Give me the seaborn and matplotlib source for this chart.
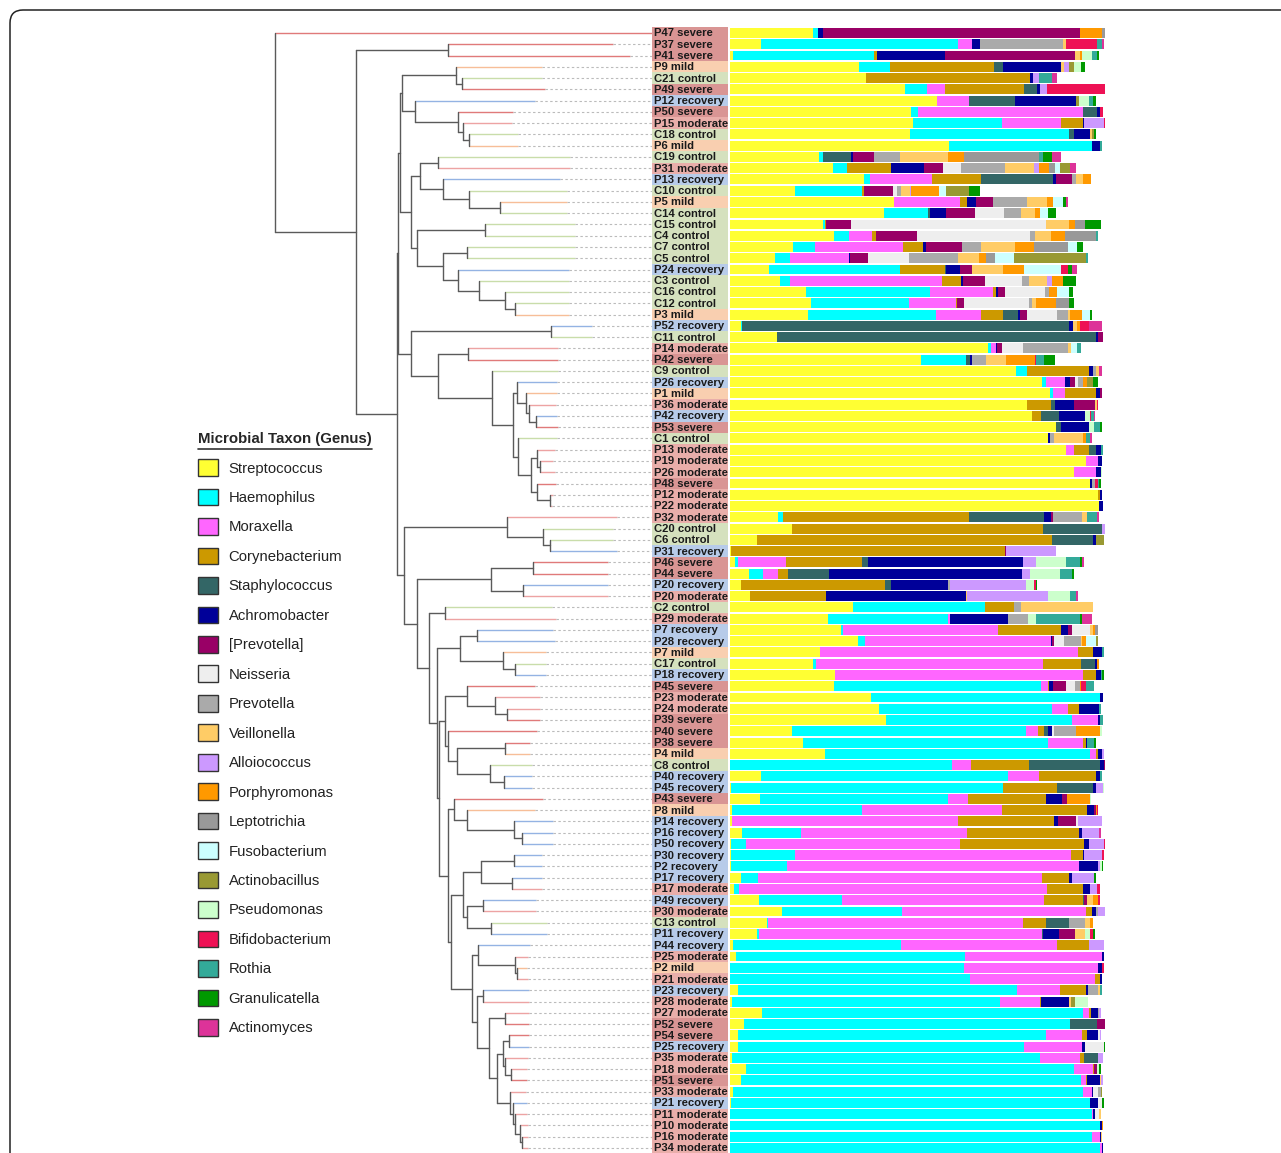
import matplotlib
matplotlib.use("Agg")
import matplotlib.pyplot as plt
from matplotlib.lines import Line2D
from matplotlib.patches import FancyBboxPatch, Patch
import numpy as np
import pandas as pd
import seaborn as sns

# ---- samples (top to bottom) ----
sample_labels = [
    "P47 severe", "P37 severe", "P41 severe", "P9 mild", "C21 control",
    "P49 severe", "P12 recovery", "P50 severe", "P15 moderate", "C18 control",
    "P6 mild", "C19 control", "P31 moderate", "P13 recovery", "C10 control",
    "P5 mild", "C14 control", "C15 control", "C4 control", "C7 control",
    "C5 control", "P24 recovery", "C3 control", "C16 control", "C12 control",
    "P3 mild", "P52 recovery", "C11 control", "P14 moderate", "P42 severe",
    "C9 control", "P26 recovery", "P1 mild", "P36 moderate", "P42 recovery",
    "P53 severe", "C1 control", "P13 moderate", "P19 moderate", "P26 moderate",
    "P48 severe", "P12 moderate", "P22 moderate", "P32 moderate", "C20 control",
    "C6 control", "P31 recovery", "P46 severe", "P44 severe", "P20 recovery",
    "P20 moderate", "C2 control", "P29 moderate", "P7 recovery", "P28 recovery",
    "P7 mild", "C17 control", "P18 recovery", "P45 severe", "P23 moderate",
    "P24 moderate", "P39 severe", "P40 severe", "P38 severe", "P4 mild",
    "C8 control", "P40 recovery", "P45 recovery", "P43 severe", "P8 mild",
    "P14 recovery", "P16 recovery", "P50 recovery", "P30 recovery", "P2 recovery",
    "P17 recovery", "P17 moderate", "P49 recovery", "P30 moderate", "C13 control",
    "P11 recovery", "P44 recovery", "P25 moderate", "P2 mild", "P21 moderate",
    "P23 recovery", "P28 moderate", "P27 moderate", "P52 severe", "P54 severe",
    "P25 recovery", "P35 moderate", "P18 moderate", "P51 severe", "P33 moderate",
    "P21 recovery", "P11 moderate", "P10 moderate", "P16 moderate", "P34 moderate",
]

# ---- tree: [node depth, child, child]; ints are leaves (row index) ----
d1 = [181, 3, [187, 4, 5]]
d2 = [140, 6, [183, 7, [188, 8, [194, 9, 10]]]]
clade_d = [127, d1, d2]
e1 = [145, [163, 11, 12], [168, 13, [194, 14, [225, 15, 16]]]]
e2 = [142, [210, 17, 18], [168, [192, 19, 20], [183, 21, [204, 22, [230, 23, [240, 24, 25]]]]]]
clade_e = [136, e1, e2]
n1a = [242, 31, [251, 32, [254, 33, [261, 34, 35]]]]
n1b = [243, 36, [256, [262, 37, [265, 38, 39]], [262, 40, [275, 41, 42]]]]
clade_n1 = [136, [276, 26, 27], [163, [193, 28, 29], [217, 30, [238, n1a, n1b]]]]
upper = [123, [125, clade_d, clade_e], clade_n1]

p32 = [232, 43, [268, 44, [275, 45, 46]]]
p46 = [216, [258, 47, 48], [248, 49, 50]]
p7 = [185, [202, 53, 54], [228, 55, [240, 56, 57]]]
p45 = [192, 58, [220, 59, [232, 60, 61]]]
p40 = [173, 62, [182, [230, 63, 64], [215, 65, [229, 66, 67]]]]
p43 = [179, 68, [192, 69, [239, 70, [247, 71, 72]]]]
p30 = [188, [206, [239, 73, 74], [237, 75, 76]], [192, [208, 77, 78], [216, 79, 80]]]
p44 = [203, 81, [240, 82, [242, 83, 84]]]
p54 = [228, [234, 89, 90], [230, 91, [236, 92, 93]]]
p33 = [235, 94, [238, 95, [240, 96, [245, 97, [247, 98, 99]]]]]
p23 = [202, [208, 85, 86], [214, [230, 87, 88], [222, p54, p33]]]
cyan_clade = [197, p44, p23]
mixed = [173, p43, [176, p30, cyan_clade]]
big = [164, [170, p45, p40], mixed]
lower = [129, p32, [142, p46, [154, [170, 51, 52], [162, p7, big]]]]
tree = [0, 0, [81, [173, 1, 2], [122, upper, lower]]]

leaf_depth = [
    377, 338, 355, 267, 267, 270, 260, 238, 237, 243,
    243, 295, 295, 285, 292, 292, 292, 300, 300, 300,
    300, 294, 294, 294, 294, 294, 317, 317, 283, 283,
    283, 282, 282, 281, 282, 283, 282, 280, 278, 280,
    281, 278, 277, 342, 338, 338, 342, 333, 333, 333,
    333, 277, 281, 278, 280, 271, 271, 271, 260, 265,
    265, 265, 262, 255, 255, 257, 257, 257, 268, 260,
    278, 278, 278, 267, 267, 267, 267, 261, 261, 272,
    272, 255, 253, 252, 253, 254, 254, 254, 254, 254,
    254, 253, 252, 252, 251, 252, 252, 253, 253, 253,
]
label_depth = 377

# ---- relative abundance (%) per genus ----
genera = [
    "Streptococcus", "Haemophilus", "Moraxella", "Corynebacterium", "Staphylococcus",
    "Achromobacter", "[Prevotella]", "Neisseria", "Prevotella", "Veillonella",
    "Alloiococcus", "Porphyromonas", "Leptotrichia", "Fusobacterium", "Actinobacillus",
    "Pseudomonas", "Bifidobacterium", "Rothia", "Granulicatella", "Actinomyces",
]
genus_colors = [
    "#FFFF33", "#00FFFF", "#FF66FF", "#CC9900", "#336666",
    "#000099", "#990066", "#EEEEEE", "#AAAAAA", "#FFCC66",
    "#CC99FF", "#FF9900", "#999999", "#CCFFFF", "#999933",
    "#CCFFCC", "#EE1155", "#33AA99", "#009900", "#DD3399",
]

streptococcus = [
    22.2, 8.2, 0.9, 34.5, 36.2, 46.7, 55.3, 48.3, 48.9, 48.0,
    58.5, 23.8, 27.4, 35.7, 17.3, 43.8, 41.1, 24.7, 27.7, 16.9,
    12.0, 10.4, 13.2, 20.3, 21.5, 20.8, 2.8, 12.5, 68.7, 50.9,
    76.3, 83.1, 85.2, 79.3, 80.4, 86.9, 84.7, 89.6, 94.9, 91.6,
    96.0, 98.2, 98.5, 12.9, 16.4, 7.1, 0.3, 1.4, 5.1, 2.8,
    5.2, 32.9, 26.2, 29.6, 34.2, 24.1, 22.0, 28.0, 27.8, 37.6,
    39.6, 41.6, 16.6, 19.4, 25.2, 0.0, 8.2, 0.2, 8.0, 0.4,
    0.4, 3.1, 0.2, 0.2, 0.2, 2.8, 1.1, 7.6, 13.9, 9.8,
    7.3, 0.9, 1.5, 0.0, 0.0, 2.0, 0.4, 8.5, 3.8, 2.1,
    2.1, 0.4, 4.2, 2.8, 0.9, 0.2, 0.0, 0.0, 0.0, 0.0,
]
haemophilus = [
    1.3, 52.7, 37.5, 8.2, 0, 5.8, 0, 1.7, 23.6, 42.5,
    38.0, 0.9, 3.9, 1.6, 17.8, 0, 11.6, 0.6, 4.1, 5.7,
    4.0, 34.8, 2.7, 32.9, 26.3, 34.0, 0.5, 0, 0.8, 12.0,
    3.0, 1.1, 0.9, 0, 0, 0, 0, 0, 0, 0,
    0, 0, 0, 1.2, 0, 0, 0, 0.7, 3.8, 0,
    0, 35.2, 32.0, 0.6, 1.8, 0, 0.8, 0, 55.0, 61.1,
    46.2, 49.5, 62.3, 65.5, 70.9, 59.1, 65.8, 72.7, 50.0, 34.9,
    0, 15.8, 4.0, 17.0, 14.9, 4.7, 1.3, 22.2, 31.9, 0.3,
    0.5, 44.7, 61.2, 62.3, 64.1, 74.5, 71.6, 85.7, 86.8, 82.1,
    76.3, 82.3, 87.6, 90.9, 93.3, 95.8, 96.4, 98.7, 96.4, 98.7,
]
moraxella = [
    0, 3.6, 0, 0, 0, 4.9, 8.5, 44.1, 15.8, 0,
    0, 0, 0, 16.6, 0, 17.5, 0, 0, 6.0, 23.6,
    15.7, 0, 40.6, 16.8, 12.4, 12.1, 0, 0, 1.3, 0,
    0, 5.2, 3.1, 0, 0, 0, 0, 2.2, 3.3, 6.0,
    0, 0, 0, 0, 0, 0, 0, 12.8, 3.8, 0,
    0, 0, 0.4, 41.2, 49.5, 68.8, 60.7, 66.2, 1.9, 0,
    4.2, 7.1, 3.1, 9.3, 1.6, 5.2, 8.5, 0, 5.4, 37.1,
    60.3, 44.2, 57.0, 73.8, 78.0, 75.7, 82.2, 54.0, 49.2, 68.0,
    75.3, 41.7, 36.4, 35.9, 33.2, 11.4, 10.7, 1.6, 0, 9.7,
    15.4, 10.5, 4.9, 1.1, 2.2, 0, 0.4, 0, 2.2, 0.4,
]
corynebacterium = [
    0, 0, 0.7, 27.6, 43.8, 20.9, 0, 0, 5.7, 0,
    0, 0, 11.6, 12.9, 0.7, 2.0, 0, 0.3, 1.2, 5.3,
    0, 12.0, 5.2, 0.8, 0.3, 5.8, 0, 0, 0, 0,
    16.5, 0, 8.4, 6.2, 2.4, 0, 0, 3.9, 0, 0,
    0, 0.4, 0, 49.5, 67.1, 78.7, 72.9, 20.4, 2.8, 38.5,
    20.4, 7.7, 0, 16.8, 0, 3.8, 10.2, 3.4, 0.4, 0,
    3.1, 0, 1.8, 0.6, 0.4, 15.3, 15.1, 14.4, 20.8, 22.9,
    25.8, 30.0, 33.3, 3.0, 0, 7.1, 9.4, 10.2, 1.5, 6.1,
    0, 8.3, 0, 0, 1.3, 7.1, 0.3, 0.4, 0, 1.3,
    0, 1.2, 0.3, 0.4, 0, 0, 0, 0, 0, 0,
]
staphylococcus = [
    0, 0, 0, 2.5, 0, 3.6, 12.2, 3.7, 0, 1.1,
    0, 7.6, 0, 19.4, 0, 0, 0.7, 0, 0, 0,
    0, 0.5, 0, 0, 0, 4.2, 87.0, 85.1, 0, 1.1,
    0, 0, 0, 1.2, 5.0, 1.3, 0, 1.9, 0, 0,
    0, 0, 0, 20.0, 15.6, 11.1, 0, 1.6, 10.8, 1.6,
    0, 0, 0, 0, 0, 0, 3.7, 0, 0, 0,
    0, 0, 0.9, 0, 0, 19.1, 0, 9.6, 0, 0,
    0, 0, 0, 0, 0, 0, 0, 0.4, 0, 6.3,
    0.3, 0, 0, 0, 0, 0, 0, 0, 7.3, 0,
    0, 3.8, 0, 0, 0, 0, 0, 0, 0, 0,
]
achromobacter = [
    1.2, 2.1, 18.2, 15.5, 0.9, 0.7, 16.3, 0.9, 0.5, 4.4,
    2.2, 0.4, 8.7, 0.6, 0, 2.2, 4.3, 0, 0, 0.7,
    0.3, 3.5, 0.4, 0.6, 0, 0.4, 1.2, 0.6, 0.4, 0.4,
    0.9, 1.3, 1.1, 4.9, 6.8, 7.6, 0.6, 1.3, 1.1, 1.2,
    0.4, 0.7, 0.9, 2.0, 0, 0.6, 0, 41.3, 51.6, 15.1,
    37.2, 0, 15.6, 2.0, 0.4, 2.4, 0.5, 1.2, 1.1, 0.7,
    5.2, 0.5, 1.2, 0.4, 1.1, 0.9, 1.1, 0.7, 4.4, 1.7,
    0.9, 0.7, 1.1, 0.3, 5.1, 1.0, 2.0, 0, 1.2, 0,
    4.4, 0, 0.6, 1.1, 0.7, 0.5, 7.5, 1.8, 0, 2.9,
    0.9, 0, 0, 3.4, 0.3, 2.0, 0.4, 0.5, 0.4, 0.4,
]
prevotella_br = [
    68.6, 0, 34.8, 0, 0, 0, 0, 0, 0, 0,
    0, 5.6, 5.3, 4.3, 7.6, 4.5, 7.7, 6.6, 10.9, 9.7,
    4.9, 3.4, 5.8, 1.8, 2.0, 1.8, 0, 1.2, 1.2, 0,
    0, 1.3, 0.5, 5.8, 0, 0, 0, 0, 0, 0,
    0, 0, 0, 0.4, 0, 0, 0.3, 0, 0, 0,
    0, 0, 0, 0.9, 0.4, 0, 0, 0, 3.3, 0,
    0, 0, 0, 0, 0, 0.5, 0, 0, 1.2, 0.5,
    4.9, 0, 0, 0, 0, 0, 0, 0.9, 0, 0,
    4.2, 0, 0, 0, 0, 0, 0, 0, 2.3, 0,
    0, 0, 0.9, 0, 0, 0, 0, 0, 0, 0,
]
# minor genera: {row: %}
neisseria = {12: 4.6, 14: 1.1, 16: 7.7, 17: 52.1, 18: 30.1, 20: 10.9, 22: 9.9, 23: 10.7,
             24: 17.3, 25: 8.2, 28: 5.8, 31: 0.9, 53: 4.9, 54: 2.8, 58: 2.5, 62: 0.4,
             70: 0.4, 89: 0.5, 90: 4.9, 94: 1.3, 95: 1.2, 96: 1.2}
prevotella = {1: 22.2, 11: 7.1, 12: 11.8, 13: 1.2, 14: 1.1, 15: 9.3, 16: 4.4, 18: 1.3,
              19: 5.0, 20: 13.1, 22: 2.0, 23: 1.2, 24: 0.7, 25: 2.9, 28: 11.8, 29: 3.8,
              30: 0.9, 31: 1.3, 36: 1.1, 40: 0.9, 43: 7.9, 49: 0.6, 51: 1.8, 52: 5.3,
              54: 4.4, 58: 1.3, 62: 6.0, 78: 0.4, 79: 4.1, 85: 2.7, 87: 0.5, 94: 0.9}
veillonella = {1: 0.7, 2: 1.2, 3: 0.7, 9: 0.5, 11: 12.6, 12: 7.7, 13: 1.8, 14: 2.3, 15: 5.1,
               16: 3.8, 17: 6.0, 18: 4.3, 19: 9.2, 20: 5.6, 21: 8.3, 22: 4.6, 24: 1.1,
               25: 0.5, 26: 1.1, 28: 0.8, 29: 5.5, 30: 0.9, 33: 0.4, 36: 7.8, 43: 1.2,
               50: 0.4, 51: 19.3, 53: 0.9, 54: 0.3, 77: 1.6, 79: 1.3, 80: 2.7, 85: 0.5,
               86: 0.4, 93: 0.4, 96: 0.4, 98: 0.3}
alloiococcus = {3: 1.3, 4: 1.6, 5: 1.8, 8: 5.2, 12: 1.3, 14: 0.4, 22: 1.4, 44: 1.2, 46: 13.5,
                47: 3.4, 48: 2.2, 49: 20.2, 50: 21.6, 64: 0.5, 67: 1.8, 70: 6.4, 71: 4.7,
                72: 4.0, 73: 4.9, 74: 0.5, 75: 5.8, 76: 1.8, 78: 1.8, 81: 4.2, 87: 0.4,
                89: 0.4, 91: 1.3, 93: 0.5}
porphyromonas = {0: 5.8, 2: 0.6, 11: 4.3, 12: 2.7, 13: 2.1, 14: 7.5, 15: 1.6, 16: 1.3, 17: 1.8,
                 18: 3.8, 19: 5.0, 20: 1.7, 21: 5.5, 22: 3.1, 23: 2.2, 24: 5.3, 25: 3.1,
                 26: 0.7, 29: 7.6, 31: 0.9, 36: 0.6, 53: 0.5, 54: 1.2, 56: 0.4, 58: 0.4,
                 62: 6.4, 68: 6.1, 69: 0.4, 77: 1.3, 79: 0.9, 97: 0.3}
leptotrichia = {0: 0.9, 11: 20.0, 12: 1.6, 17: 2.6, 18: 8.2, 19: 9.1, 20: 2.5, 24: 3.4, 53: 0.6}
fusobacterium = {12: 1.5, 14: 1.8, 15: 2.8, 16: 2.2, 19: 2.2, 20: 4.9, 21: 9.8, 23: 3.1,
                 25: 2.2, 28: 1.6, 54: 2.7}
actinobacillus = {3: 1.3, 6: 0.8, 9: 0.5, 12: 2.5, 14: 6.0, 20: 19.3, 31: 1.8, 45: 2.2,
                  54: 0.4, 86: 1.2, 94: 0.4}
pseudomonas = {2: 2.7, 3: 2.0, 6: 2.5, 34: 1.3, 35: 1.3, 39: 0.5, 47: 8.0, 48: 8.0, 49: 2.2,
               50: 5.8, 52: 2.0, 62: 0.5, 67: 0.3, 68: 0.4, 74: 0.4, 80: 1.3, 86: 3.4, 92: 0.4}
bifidobacterium = {1: 8.4, 5: 15.5, 7: 0.8, 8: 0.5, 21: 1.8, 26: 2.5, 29: 0.4, 33: 0.4, 34: 0.4,
                   40: 0.7, 49: 0.5, 58: 1.3, 69: 0.3, 72: 0.7, 73: 0.5, 76: 0.9, 77: 0.5,
                   80: 0.9, 83: 0.5}
rothia = {1: 1.2, 2: 1.3, 4: 3.3, 6: 1.3, 10: 0.5, 11: 1.2, 18: 0.5, 20: 0.5, 28: 1.3, 29: 2.0,
          34: 0.7, 35: 1.5, 36: 1.2, 37: 0.5, 40: 0.5, 43: 2.8, 47: 3.7, 48: 3.0, 50: 1.6,
          52: 11.7, 55: 0.5, 57: 0.5, 58: 2.0, 60: 0.7, 61: 0.7, 63: 1.8, 66: 0.5, 85: 0.4}
granulicatella = {2: 0.5, 3: 1.1, 6: 0.7, 9: 0.5, 11: 2.4, 14: 3.1, 15: 0.9, 16: 2.2, 17: 4.3,
                  19: 1.6, 21: 1.1, 22: 3.4, 23: 1.0, 24: 1.3, 25: 0.5, 29: 3.0, 31: 1.3,
                  35: 0.5, 40: 0.4, 47: 0.5, 48: 0.5, 49: 0.4, 52: 0.7, 57: 0.5, 63: 0.5,
                  74: 0.3, 75: 0.4, 80: 0.4, 90: 0.3, 92: 0.5, 95: 0.4}
actinomyces = {1: 0.6, 4: 1.5, 11: 2.4, 12: 1.6, 15: 0.5, 21: 1.3, 26: 3.3, 30: 0.6, 34: 0.3,
               36: 0.5, 43: 0.5, 47: 0.5, 50: 0.7, 52: 2.7, 71: 0.5}

group_bg = {"severe": "#D99594", "moderate": "#E9AEAA", "mild": "#F9CFB0",
            "control": "#D5E1BE", "recovery": "#B7CBE9"}
group_line = {"severe": "#E07A7A", "moderate": "#EDA3A3", "mild": "#F7BE98",
              "control": "#C9DDAA", "recovery": "#94B3E3"}


def _dense(values, n):
    if isinstance(values, dict):
        out = np.zeros(n)
        for k, v in values.items():
            out[k] = v
        return out
    return np.asarray(values, dtype=float)


def draw_tree(ax, node, groups, parent=None):
    if isinstance(node, int):
        color = group_line[groups[node]]
        ax.plot([parent, leaf_depth[node]], [node, node], color=color, lw=1.0,
                solid_capstyle="butt", clip_on=False)
        if leaf_depth[node] < label_depth:
            ax.plot([leaf_depth[node], label_depth], [node, node], color="#BBBBBB",
                    lw=0.8, ls=(0, (2.2, 2.2)), clip_on=False)
        return node
    depth, *children = node
    ys = [draw_tree(ax, ch, groups, depth) for ch in children]
    ax.plot([depth, depth], [min(ys), max(ys)], color="#5A5A5A", lw=1.0, clip_on=False)
    y = (min(ys) + max(ys)) / 2
    if parent is not None:
        ax.plot([parent, depth], [y, y], color="#5A5A5A", lw=1.0, clip_on=False)
    return y


def main() -> None:
    sns.set_theme(style="white")
    plt.rcParams["font.family"] = ["Liberation Sans", "DejaVu Sans"]

    n = len(sample_labels)
    groups = [lab.split()[-1] for lab in sample_labels]
    series = [streptococcus, haemophilus, moraxella, corynebacterium, staphylococcus,
              achromobacter, prevotella_br, neisseria, prevotella, veillonella,
              alloiococcus, porphyromonas, leptotrichia, fusobacterium, actinobacillus,
              pseudomonas, bifidobacterium, rothia, granulicatella, actinomyces]
    df = pd.DataFrame({g: _dense(s, n) for g, s in zip(genera, series)}, index=sample_labels)
    cum = df.cumsum(axis=1)

    W, H = 1281, 1153
    fig = plt.figure(figsize=(W / 100, H / 100), dpi=100)
    row_top, row_bot = 27.37, 1153.63
    bottom = 1 - row_bot / H
    height = (row_bot - row_top) / H

    # dendrogram
    ax_tree = fig.add_axes([275 / W, bottom, 377 / W, height])
    draw_tree(ax_tree, tree, groups)
    ax_tree.set_xlim(0, label_depth)
    ax_tree.set_ylim(n - 0.5, -0.5)
    ax_tree.axis("off")

    # sample labels with group colour
    ax_lab = fig.add_axes([652 / W, bottom, 76 / W, height])
    lab_df = pd.DataFrame({"sample": sample_labels, "group": groups, "one": 1.0})
    sns.barplot(data=lab_df, x="one", y="sample", hue="group", palette=group_bg,
                order=sample_labels, dodge=False, width=1.0, saturation=1,
                legend=False, linewidth=0, errorbar=None, ax=ax_lab)
    for i, lab in enumerate(sample_labels):
        ax_lab.text(0.025, i + 0.04, lab, ha="left", va="center", fontsize=8.1,
                    fontweight="bold", color="#1A1A1A")
    ax_lab.set_xlim(0, 1)
    ax_lab.set_ylim(n - 0.5, -0.5)
    ax_lab.axis("off")

    # stacked composition bars (drawn cumulative, back to front)
    ax_bar = fig.add_axes([730 / W, bottom, 375 / W, height])
    for g, c in reversed(list(zip(genera, genus_colors))):
        sns.barplot(x=cum[g].values, y=sample_labels, order=sample_labels, orient="h",
                    color=c, saturation=1, width=0.88, linewidth=0, errorbar=None, ax=ax_bar)
    ax_bar.set_xlim(0, 100)
    ax_bar.set_ylim(n - 0.5, -0.5)
    ax_bar.axis("off")

    # legend
    handles = [Patch(facecolor=c, edgecolor="#333333", linewidth=1.0) for c in genus_colors]
    leg = fig.legend(handles, genera, loc="upper left",
                     bbox_to_anchor=(191 / W, 1 - 425 / H), frameon=False,
                     fontsize=10.7, title="Microbial Taxon (Genus)",
                     title_fontproperties={"weight": "bold", "size": 10.8},
                     handlelength=1.35, handleheight=1.35, labelspacing=0.86,
                     handletextpad=0.68, borderpad=0, alignment="left")
    for t in leg.get_texts():
        t.set_color("#222222")
    fig.add_artist(Line2D([198 / W, 372 / W], [1 - 449 / H, 1 - 449 / H],
                          color="#333333", lw=1.2, transform=fig.transFigure))

    # panel frame
    frame = FancyBboxPatch((0.10, -1.0), 14.0, 11.43 + 1.0,
                           boxstyle="round,pad=0,rounding_size=0.13",
                           transform=fig.dpi_scale_trans, facecolor="none",
                           edgecolor="#222222", linewidth=1.1)
    fig.add_artist(frame)

    fig.savefig("out.png", dpi=100, facecolor="white")
    plt.close(fig)


if __name__ == "__main__":
    main()
